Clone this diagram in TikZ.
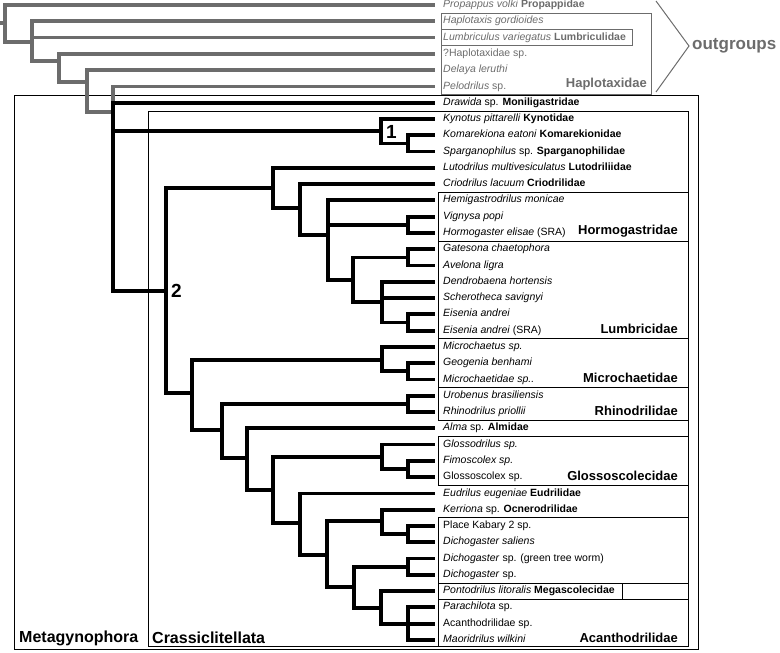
\documentclass[tikz,border=0pt]{standalone}
\usepackage{fontspec}
\setmainfont{Liberation Sans}
\definecolor{outgrey}{RGB}{108,108,108}

\begin{document}
\begin{tikzpicture}[x=1pt,y=-1pt,
  branch/.style={line width=3.8pt,black},
  outbranch/.style={line width=3.8pt,outgrey},
  box/.style={line width=1pt},
  leaf/.style={anchor=west,inner xsep=8pt,text height=7.6pt,text depth=2.4pt,font=\fontsize{10.5}{12}\selectfont},
  famname/.style={anchor=east,font=\fontsize{13}{15}\selectfont\bfseries},
  cladename/.style={anchor=west,font=\fontsize{16}{18}\selectfont\bfseries},
  nodenum/.style={anchor=west,font=\fontsize{19}{21}\selectfont\bfseries}]
\tikzstyle{every node}+=[inner sep=0pt]
\useasboundingbox (0,0) rectangle (780,653);
\draw [box,black] (14,95) rectangle (698,649);
\draw [box,black] (148,111) rectangle (688,646);
\draw [box,outgrey] (441,13.2) rectangle (651,94.5);
\draw [box,outgrey] (441,29.5) rectangle (632,45.7);
\draw [box,black] (438,192.3) rectangle (688,241);
\draw [box,black] (438,241) rectangle (688,338.7);
\draw [box,black] (438,338.7) rectangle (688,387.6);
\draw [box,black] (438,387.6) rectangle (688,420.2);
\draw [box,black] (438,436.5) rectangle (688,485.3);
\draw [box,black] (438,517.8) rectangle (688,583);
\draw [box,black] (438,583) rectangle (622,599.2);
\draw [box,black] (438,599.2) rectangle (688,646);
\draw [box,outgrey] (656,1) -- (689,46) -- (656,92);
\node [leaf,outgrey] (t1) at (435,5) {\textit{Propappus volki} \textbf{Propappidae}};
\node [leaf,outgrey] (t2) at (435,21.28) {\textit{Haplotaxis gordioides}};
\node [leaf,outgrey] (t3) at (435,37.56) {\textit{Lumbriculus variegatus} \textbf{Lumbriculidae}};
\node [leaf,outgrey] (t4) at (435,53.84) {?Haplotaxidae sp.};
\node [leaf,outgrey] (t5) at (435,70.12) {\textit{Delaya leruthi}};
\node [leaf,outgrey] (t6) at (435,86.4) {\textit{Pelodrilus} sp.};
\node [leaf] (t7) at (435,102.68) {\textit{Drawida} sp. \textbf{Moniligastridae}};
\node [leaf] (t8) at (435,118.96) {\textit{Kynotus pittarelli} \textbf{Kynotidae}};
\node [leaf] (t9) at (435,135.24) {\textit{Komarekiona eatoni} \textbf{Komarekionidae}};
\node [leaf] (t10) at (435,151.52) {\textit{Sparganophilus} sp. \textbf{Sparganophilidae}};
\node [leaf] (t11) at (435,167.8) {\textit{Lutodrilus multivesiculatus} \textbf{Lutodriliidae}};
\node [leaf] (t12) at (435,184.08) {\textit{Criodrilus lacuum} \textbf{Criodrilidae}};
\node [leaf] (t13) at (435,200.36) {\textit{Hemigastrodrilus monicae}};
\node [leaf] (t14) at (435,216.64) {\textit{Vignysa popi}};
\node [leaf] (t15) at (435,232.92) {\textit{Hormogaster elisae} (SRA)};
\node [leaf] (t16) at (435,249.2) {\textit{Gatesona chaetophora}};
\node [leaf] (t17) at (435,265.48) {\textit{Avelona ligra}};
\node [leaf] (t18) at (435,281.76) {\textit{Dendrobaena hortensis}};
\node [leaf] (t19) at (435,298.04) {\textit{Scherotheca savignyi}};
\node [leaf] (t20) at (435,314.32) {\textit{Eisenia andrei}};
\node [leaf] (t21) at (435,330.6) {\textit{Eisenia andrei} (SRA)};
\node [leaf] (t22) at (435,346.88) {\textit{Microchaetus sp.}};
\node [leaf] (t23) at (435,363.16) {\textit{Geogenia benhami}};
\node [leaf] (t24) at (435,379.44) {\textit{Microchaetidae sp..}};
\node [leaf] (t25) at (435,395.72) {\textit{Urobenus brasiliensis}};
\node [leaf] (t26) at (435,412) {\textit{Rhinodrilus priollii}};
\node [leaf] (t27) at (435,428.28) {\textit{Alma} sp. \textbf{Almidae}};
\node [leaf] (t28) at (435,444.56) {\textit{Glossodrilus sp.}};
\node [leaf] (t29) at (435,460.84) {\textit{Fimoscolex sp.}};
\node [leaf] (t30) at (435,477.12) {Glossoscolex sp.};
\node [leaf] (t31) at (435,493.4) {\textit{Eudrilus eugeniae} \textbf{Eudrilidae}};
\node [leaf] (t32) at (435,509.68) {\textit{Kerriona} sp. \textbf{Ocnerodrilidae}};
\node [leaf] (t33) at (435,525.96) {Place Kabary 2 sp.};
\node [leaf] (t34) at (435,542.24) {\textit{Dichogaster saliens}};
\node [leaf] (t35) at (435,558.52) {\textit{Dichogaster} sp. (green tree worm)};
\node [leaf] (t36) at (435,574.8) {\textit{Dichogaster} sp.};
\node [leaf] (t37) at (435,591.08) {\textit{Pontodrilus litoralis} \textbf{Megascolecidae}};
\node [leaf] (t38) at (435,607.36) {\textit{Parachilota} sp.};
\node [leaf] (t39) at (435,623.64) {Acanthodrilidae sp.};
\node [leaf] (t40) at (435,639.92) {\textit{Maoridrilus wilkini}};
\node [famname,outgrey] (haplo) at (647,84.5) {Haplotaxidae};
\node [anchor=west,outgrey,font=\fontsize{17}{19}\selectfont\bfseries] (outg) at (692,46) {outgroups};
\node [famname] (hormo) at (678,231.5) {Hormogastridae};
\node [famname] (lumbr) at (678,329) {Lumbricidae};
\node [famname] (micro) at (678,378) {Microchaetidae};
\node [famname] (rhino) at (678,410.5) {Rhinodrilidae};
\node [famname] (gloss) at (678,475.5) {Glossoscolecidae};
\node [famname] (acant) at (678,638) {Acanthodrilidae};
\node [cladename] (metag) at (19,638) {Metagynophora};
\node [cladename] (crass) at (152,638) {Crassiclitellata};
\coordinate (stub) at (0,23);
\coordinate (root) at (5,23);
\coordinate (gA) at (32,42);
\coordinate (gB) at (59,61);
\coordinate (gC) at (87,82);
\coordinate (gD) at (113,112);
\coordinate (meta) at (113,112);
\coordinate (n1) at (381,131.2);
\coordinate (n1b) at (408,143.4);
\coordinate (n2) at (166,291);
\coordinate (lut) at (273,188);
\coordinate (cri) at (300,208);
\coordinate (hor) at (328,235);
\coordinate (horp) at (408,224.8);
\coordinate (lum) at (353,279.8);
\coordinate (gatav) at (408,257.4);
\coordinate (lumb) at (382,302.1);
\coordinate (eis) at (408,322.5);
\coordinate (sth) at (192,393);
\coordinate (mic) at (382,360);
\coordinate (micp) at (408,371.3);
\coordinate (rhn) at (222,430);
\coordinate (rhip) at (408,403.9);
\coordinate (alm) at (247,458);
\coordinate (glo) at (273,490);
\coordinate (glop) at (382,456.8);
\coordinate (glopp) at (408,469);
\coordinate (eud) at (300,523);
\coordinate (meg) at (327,555);
\coordinate (ocn) at (382,521);
\coordinate (dic1) at (408,534.1);
\coordinate (acn) at (354,587);
\coordinate (dic2) at (408,566.7);
\coordinate (pon) at (381,608);
\coordinate (aca) at (408,623.6);
\draw [outbranch] (stub) -- (root) (root) |- (t1.west) (root) |- (gA);
\draw [outbranch] (gA) |- (t2.west) (gA) |- (t3.west) (gA) |- (gB);
\draw [outbranch] (gB) |- (t4.west) (gB) |- (gC);
\draw [outbranch] (gC) |- (t5.west) (gC) |- (gD);
\draw [outbranch] (gD) |- (t6.west);
\draw [branch] (meta) |- (t7.west) (meta) |- (n1) (meta) |- (n2);
\draw [branch] (n1) |- (t8.west) (n1) |- (n1b);
\draw [branch] (n1b) |- (t9.west) (n1b) |- (t10.west);
\draw [branch] (n2) |- (lut) (n2) |- (sth);
\draw [branch] (lut) |- (t11.west) (lut) |- (cri);
\draw [branch] (cri) |- (t12.west) (cri) |- (hor);
\draw [branch] (hor) |- (t13.west) (hor) |- (horp) (hor) |- (lum);
\draw [branch] (horp) |- (t14.west) (horp) |- (t15.west);
\draw [branch] (lum) |- (gatav) (lum) |- (lumb);
\draw [branch] (gatav) |- (t16.west) (gatav) |- (t17.west);
\draw [branch] (lumb) |- (t18.west) (lumb) |- (t19.west) (lumb) |- (eis);
\draw [branch] (eis) |- (t20.west) (eis) |- (t21.west);
\draw [branch] (sth) |- (mic) (sth) |- (rhn);
\draw [branch] (mic) |- (t22.west) (mic) |- (micp);
\draw [branch] (micp) |- (t23.west) (micp) |- (t24.west);
\draw [branch] (rhn) |- (rhip) (rhn) |- (alm);
\draw [branch] (rhip) |- (t25.west) (rhip) |- (t26.west);
\draw [branch] (alm) |- (t27.west) (alm) |- (glo);
\draw [branch] (glo) |- (glop) (glo) |- (eud);
\draw [branch] (glop) |- (t28.west) (glop) |- (glopp);
\draw [branch] (glopp) |- (t29.west) (glopp) |- (t30.west);
\draw [branch] (eud) |- (t31.west) (eud) |- (meg);
\draw [branch] (meg) |- (ocn) (meg) |- (acn);
\draw [branch] (ocn) |- (t32.west) (ocn) |- (dic1);
\draw [branch] (dic1) |- (t33.west) (dic1) |- (t34.west);
\draw [branch] (acn) |- (dic2) (acn) |- (pon);
\draw [branch] (dic2) |- (t35.west) (dic2) |- (t36.west);
\draw [branch] (pon) |- (t37.west) (pon) |- (aca);
\draw [branch] (aca) |- (t38.west) (aca) |- (t39.west) (aca) |- (t40.west);
\node [nodenum] (lab1) at (386,131.5) {1};
\node [nodenum] (lab2) at (171,291) {2};
\end{tikzpicture}
\end{document}
